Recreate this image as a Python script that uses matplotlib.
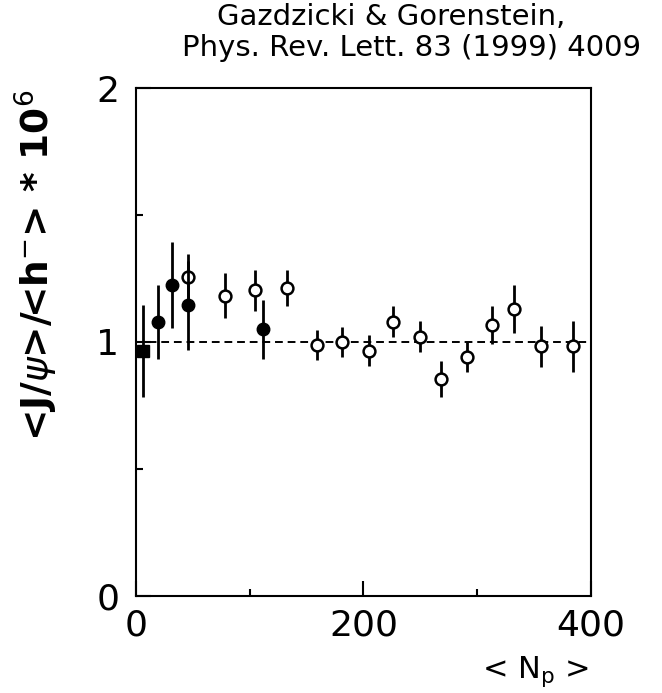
import numpy as np
import matplotlib
matplotlib.use("Agg")
import matplotlib.pyplot as plt

# NA38/NA50 style J/psi over h- ratio vs <N_p>
# filled points (S-U etc.)
np_filled = [19.6, 31.4, 46.0, 111.4]
r_filled = [1.08, 1.225, 1.145, 1.05]
e_filled = [0.145, 0.17, 0.175, 0.115]

# filled square (p-A)
np_sq = [6.4]
r_sq = [0.965]
e_sq = [0.18]

# open circles (Pb-Pb)
np_open = [46.0, 78.2, 104.6, 132.5, 159.4, 181.4, 204.8, 226.2, 249.7,
           268.1, 291.3, 313.3, 332.6, 355.7, 384.4]
r_open = [1.255, 1.183, 1.203, 1.212, 0.988, 1.0, 0.966, 1.08, 1.021,
          0.854, 0.94, 1.067, 1.13, 0.983, 0.983]
e_open = [0.09, 0.09, 0.08, 0.07, 0.06, 0.06, 0.06, 0.06, 0.06,
          0.07, 0.06, 0.075, 0.095, 0.08, 0.1]

fig = plt.figure(figsize=(6.62, 6.93), dpi=100)
ax = fig.add_axes([0.2054, 0.14, 0.6873, 0.733])

ax.axhline(1.0, color="black", lw=1.4, ls=(0, (4, 2.5)), zorder=1)

ax.errorbar(np_sq, r_sq, yerr=e_sq, fmt="s", color="black", ms=9,
            elinewidth=2, capsize=0, zorder=3)
ax.errorbar(np_filled, r_filled, yerr=e_filled, fmt="o", color="black", ms=9,
            elinewidth=2, capsize=0, zorder=3)
ax.errorbar(np_open, r_open, yerr=e_open, fmt="o", color="black", ms=8.5,
            mfc="white", mew=1.8, elinewidth=2, capsize=0, zorder=2)

ax.set_xlim(0, 400)
ax.set_ylim(0, 2)
ax.set_xticks([0, 200, 400])
ax.set_xticks([100, 300], minor=True)
ax.set_yticks([0, 1, 2])
ax.set_yticks([0.5, 1.5], minor=True)
ax.tick_params(which="both", direction="in", labelsize=26, width=1.5)
ax.tick_params(which="major", length=11)
ax.tick_params(which="minor", length=5)
ax.tick_params(axis="y", pad=12)
ax.tick_params(axis="x", pad=9)
for s in ax.spines.values():
    s.set_linewidth(1.5)

fig.text(36 / 662, 1 - 265 / 693, r"<J/$\psi$>/<h$^{-}$> * 10$^{6}$",
         fontsize=27, fontweight="bold", rotation=90,
         ha="center", va="center")
fig.text(535 / 662, 1 - 672 / 693, r"< N$_{\rm p}$ >", fontsize=22,
         ha="center", va="center")

fig.text(391 / 662, 1 - 17 / 693, "Gazdzicki & Gorenstein,", fontsize=21,
         ha="center", va="center")
fig.text(412 / 662, 1 - 48 / 693, "Phys. Rev. Lett. 83 (1999) 4009",
         fontsize=21, ha="center", va="center")

fig.savefig("out.png", dpi=100)
